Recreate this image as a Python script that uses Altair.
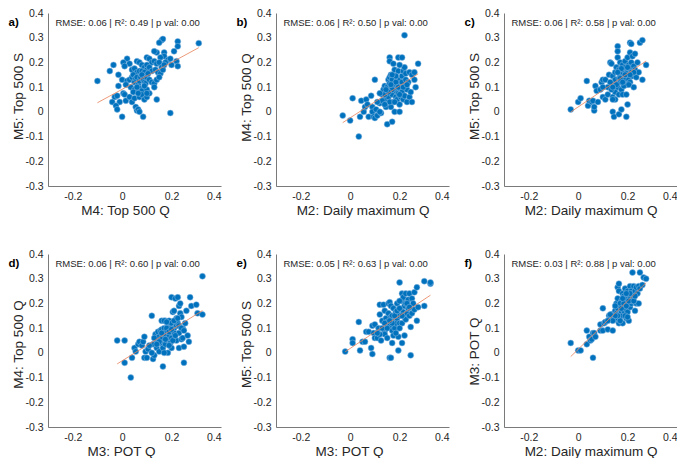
import altair as alt
import pandas as pd

FONT = "Liberation Sans"
TXT = "#262626"

# ---------------- data ----------------
a_pts = [(-0.10,0.125),(-0.05,0.165),(-0.035,0.19),(-0.015,0.15),
 (0.16,0.29),(0.165,0.295),(0.15,0.28),(0.225,0.285),(0.225,0.265),(0.31,0.278),(0.14,0.24),(0.13,0.245),
 (0.17,0.24),(0.21,0.245),(0.17,0.225),(0.185,0.21),(0.195,0.215),(0.2,0.19),(0.22,0.205),(0.225,0.185),
 (0.155,0.22),(0.1,0.22),(0.11,0.215),(0.12,0.2),(0.13,0.205),(0.14,0.195),(0.15,0.2),(0.16,0.18),(0.175,0.2),
 (0.06,0.205),(0.07,0.2),(0.08,0.19),(0.09,0.18),(0.1,0.17),(0.02,0.215),(0.03,0.195),(0.005,0.2),(0.01,0.185),
 (0.04,0.17),(0.05,0.175),(0.06,0.16),(0.07,0.165),(0.08,0.165),(0.09,0.16),(0.1,0.19),(0.11,0.18),(0.12,0.165),
 (0.135,0.17),(0.145,0.16),(0.155,0.155),(0.165,0.17),(0.17,0.19),
 (0.0,0.13),(0.02,0.125),(0.03,0.13),(0.04,0.14),(0.045,0.15),(0.05,0.12),(0.055,0.135),(0.06,0.14),(0.065,0.11),
 (0.07,0.125),(0.075,0.14),(0.08,0.15),(0.085,0.13),(0.09,0.12),(0.095,0.115),(0.1,0.14),(0.105,0.155),(0.11,0.13),
 (0.12,0.12),(0.13,0.115),(0.14,0.13),(0.15,0.14),(0.035,0.1),(0.05,0.09),(0.07,0.095),(0.08,0.085),(0.1,0.09),
 (0.13,0.1),(0.09,0.105),(0.06,0.1),(-0.015,0.105),(0.015,0.11),
 (-0.03,0.06),(-0.02,0.065),(-0.01,0.04),(-0.04,0.04),(-0.025,0.025),(-0.02,0.01),(0.0,-0.02),(0.015,0.045),
 (0.005,0.075),(0.01,0.07),(0.03,0.06),(0.04,0.04),(0.05,0.055),(0.055,0.02),(0.06,0.005),(0.065,0.01),(0.07,0.0),
 (0.085,-0.02),(0.07,0.06),(0.08,0.07),(0.09,0.05),(0.1,0.06),(0.11,0.075),(0.14,0.05),(0.195,-0.005),(0.045,0.08),
 (0.065,0.075),(0.1,0.075)]

b_pts = [(-0.03,-0.015),(0.0,-0.035),(0.01,0.055),(0.035,-0.1),(0.04,-0.02),(0.045,0.045),(0.055,0.0),(0.06,0.02),
 (0.065,0.05),(0.07,0.03),(0.075,-0.02),(0.085,0.065),(0.09,0.02),(0.09,0.0),(0.095,-0.02),(0.1,0.13),(0.1,-0.025),
 (0.105,0.01),(0.11,-0.015),(0.12,0.035),(0.125,-0.005),(0.13,0.07),(0.135,0.09),(0.14,0.105),(0.14,0.05),(0.145,0.02),
 (0.15,0.1),(0.15,0.08),(0.15,-0.05),(0.155,0.13),(0.155,0.06),(0.16,0.22),(0.16,0.205),(0.16,0.14),(0.16,0.115),
 (0.165,0.15),(0.165,0.09),(0.165,0.02),(0.17,-0.04),(0.17,0.13),(0.17,0.07),(0.175,0.11),(0.175,0.04),(0.18,0.17),
 (0.18,0.1),(0.18,0.0),(0.185,0.085),(0.185,0.06),(0.19,0.13),(0.19,0.095),(0.19,0.05),(0.195,0.165),(0.195,0.22),
 (0.195,0.075),(0.2,0.11),(0.2,0.13),(0.2,0.03),(0.2,0.0),(0.205,0.09),(0.205,0.06),(0.21,0.22),(0.21,0.145),
 (0.21,0.12),(0.21,0.08),(0.215,0.165),(0.215,0.05),(0.22,0.31),(0.22,0.18),(0.22,0.1),(0.22,0.065),(0.225,0.13),
 (0.225,0.155),(0.23,0.09),(0.23,0.04),(0.235,0.12),(0.24,0.16),(0.24,0.06),(0.245,0.08),(0.25,0.15),(0.25,0.04),
 (0.26,0.16),(0.265,0.1),(0.275,0.195),(0.26,0.13),(0.2,0.19),(0.175,0.195),(0.14,0.07),(0.13,0.045),(0.12,0.075),
 (0.11,0.04),(0.185,0.12),(0.195,0.1),(0.17,0.09),(0.165,0.11),(0.155,0.08),(0.145,0.09),(0.16,0.04),(0.18,0.04),
 (0.2,0.07),(0.215,0.1),(0.23,0.11),(0.185,0.145),(0.17,0.15),(0.14,0.03),(0.12,0.0)]

c_pts = [(-0.03,0.01),(0.0,0.04),(0.01,0.055),(0.035,0.125),(0.04,0.025),(0.045,0.045),(0.055,0.04),(0.06,0.045),
 (0.065,0.005),(0.065,0.02),(0.07,0.105),(0.075,0.085),(0.09,0.09),(0.095,0.12),(0.1,0.13),(0.1,0.06),(0.11,0.13),
 (0.11,0.05),(0.12,0.07),(0.125,0.15),(0.13,0.2),(0.135,0.195),(0.14,0.145),(0.14,0.06),(0.14,0.0),(0.145,0.11),
 (0.145,-0.02),(0.15,0.16),(0.15,0.13),(0.15,0.08),(0.155,0.18),(0.16,0.265),(0.16,0.245),(0.16,0.22),(0.16,0.1),
 (0.165,0.135),(0.165,0.17),(0.165,0.07),(0.165,-0.01),(0.17,0.2),(0.17,0.15),(0.17,0.12),(0.175,0.09),(0.175,0.01),
 (0.18,0.19),(0.18,0.16),(0.18,0.07),(0.185,0.17),(0.185,0.14),(0.19,0.205),(0.19,0.18),(0.19,0.13),(0.195,0.11),
 (0.195,0.07),(0.195,-0.02),(0.2,0.22),(0.2,0.165),(0.2,0.15),(0.2,0.03),(0.205,0.19),(0.205,0.13),(0.21,0.28),
 (0.21,0.24),(0.21,0.175),(0.21,0.12),(0.215,0.275),(0.215,0.2),(0.215,0.16),(0.22,0.225),(0.22,0.145),(0.225,0.185),
 (0.225,0.1),(0.23,0.235),(0.23,0.17),(0.235,0.14),(0.24,0.2),(0.245,0.16),(0.25,0.28),(0.26,0.29),(0.26,0.13),
 (0.275,0.19),(0.12,0.1),(0.13,0.12),(0.135,0.09),(0.155,0.11),(0.175,0.175),(0.185,0.105),(0.195,0.155),(0.205,0.11),
 (0.225,0.16),(0.14,0.1),(0.16,0.16),(0.17,0.135),(0.18,0.12),(0.19,0.15),(0.2,0.18),(0.21,0.15),(0.15,0.05),
 (0.14,0.05),(0.08,0.04),(0.1,0.1)]

d_pts = [(-0.02,0.05),(0.01,0.05),(0.01,-0.04),(0.035,-0.1),(0.04,-0.02),(0.05,0.02),(0.055,0.005),(0.065,0.035),
 (0.07,0.045),(0.08,0.03),(0.085,0.045),(0.09,0.065),(0.09,-0.02),(0.095,0.005),(0.1,-0.02),(0.105,0.015),(0.12,0.15),
 (0.125,0.035),(0.125,-0.025),(0.13,-0.01),(0.135,0.075),(0.14,0.05),(0.14,0.02),(0.145,0.085),(0.15,0.065),
 (0.15,0.005),(0.155,0.09),(0.155,0.04),(0.16,0.13),(0.16,0.095),(0.16,0.06),(0.165,0.02),(0.165,-0.055),(0.17,0.1),
 (0.17,0.075),(0.175,0.13),(0.175,0.035),(0.18,0.09),(0.18,0.055),(0.185,0.11),(0.185,0.0),(0.19,0.13),(0.19,0.07),
 (0.195,0.1),(0.195,0.04),(0.2,0.225),(0.2,0.12),(0.2,0.06),(0.2,0.02),(0.205,0.165),(0.21,0.17),(0.21,0.1),
 (0.21,0.08),(0.215,0.22),(0.215,0.13),(0.22,0.14),(0.22,0.11),(0.22,0.05),(0.225,0.225),(0.225,0.12),(0.23,0.19),
 (0.23,0.08),(0.23,0.02),(0.235,0.2),(0.235,0.16),(0.24,0.145),(0.24,0.055),(0.245,0.1),(0.245,0.06),(0.25,-0.04),
 (0.25,0.025),(0.255,0.12),(0.26,0.17),(0.265,0.07),(0.27,0.045),(0.275,0.225),(0.28,0.19),(0.3,0.195),(0.305,0.16),
 (0.325,0.31),(0.325,0.155),(0.17,0.13),(0.18,0.1),(0.19,0.085),(0.2,0.095),(0.21,0.13),(0.16,0.08),(0.15,0.045),
 (0.14,0.035),(0.13,0.06),(0.175,0.055),(0.205,0.05),(0.23,0.11),(0.24,0.1),(0.25,0.09),(0.215,0.07),(0.19,0.03),
 (0.17,0.0),(0.11,0.03),(0.12,0.0),(0.18,0.125),(0.225,0.14)]

e_pts = [(-0.02,0.005),(0.01,0.055),(0.01,0.04),(0.035,0.125),(0.04,0.01),(0.05,0.045),(0.06,0.045),(0.065,0.085),
 (0.075,0.085),(0.085,0.02),(0.09,0.11),(0.09,-0.005),(0.095,0.08),(0.1,0.06),(0.1,0.115),(0.11,0.06),(0.115,0.1),
 (0.12,0.155),(0.12,0.195),(0.125,0.05),(0.13,0.13),(0.135,0.195),(0.14,0.17),(0.14,0.09),(0.14,0.075),(0.145,0.14),
 (0.15,0.125),(0.15,0.06),(0.155,0.2),(0.155,0.16),(0.16,0.11),(0.16,0.205),(0.16,-0.02),(0.165,0.145),(0.165,0.19),
 (0.165,-0.02),(0.17,0.15),(0.17,0.09),(0.175,0.18),(0.175,0.07),(0.18,0.13),(0.18,0.1),(0.185,0.165),(0.185,0.12),
 (0.19,0.2),(0.19,0.14),(0.195,0.01),(0.195,0.065),(0.2,0.285),(0.2,0.15),(0.2,0.12),(0.205,0.175),(0.21,0.24),
 (0.21,0.21),(0.21,0.12),(0.21,0.04),(0.215,0.165),(0.215,0.225),(0.22,0.19),(0.22,0.145),(0.22,0.07),(0.225,0.24),
 (0.225,0.2),(0.225,0.135),(0.23,0.16),(0.235,0.215),(0.235,0.18),(0.24,0.24),(0.24,0.15),(0.245,0.105),(0.245,-0.01),
 (0.25,0.22),(0.25,0.16),(0.255,0.2),(0.26,0.245),(0.26,0.175),(0.27,0.265),(0.27,0.13),(0.275,0.185),(0.3,0.29),
 (0.3,0.19),(0.325,0.28),(0.325,0.285),(0.13,0.1),(0.15,0.1),(0.17,0.12),(0.18,0.15),(0.19,0.17),(0.2,0.18),(0.2,0.1),
 (0.185,0.08),(0.21,0.15),(0.23,0.2),(0.24,0.185),(0.14,0.12),(0.16,0.13),(0.12,0.075),(0.11,0.08),(0.17,0.04),(0.2,0.21)]

f_pts = [(-0.03,0.04),(0.0,0.01),(0.01,0.01),(0.035,0.035),(0.035,0.09),(0.045,0.065),(0.05,0.05),(0.055,0.055),
 (0.06,-0.02),(0.06,0.08),(0.065,0.08),(0.07,0.065),(0.09,0.115),(0.09,0.09),(0.1,0.18),(0.1,0.09),(0.105,0.12),
 (0.11,0.125),(0.12,0.095),(0.125,0.15),(0.13,0.14),(0.135,0.155),(0.14,0.09),(0.14,0.15),(0.145,0.16),(0.15,0.17),
 (0.15,0.135),(0.155,0.2),(0.155,0.16),(0.16,0.265),(0.16,0.22),(0.16,0.18),(0.16,0.14),(0.165,0.28),(0.165,0.25),
 (0.165,0.12),(0.17,0.19),(0.17,0.155),(0.175,0.21),(0.175,0.165),(0.18,0.24),(0.18,0.195),(0.18,0.15),(0.18,0.12),
 (0.185,0.23),(0.185,0.17),(0.19,0.205),(0.19,0.18),(0.19,0.26),(0.195,0.22),(0.195,0.14),(0.2,0.25),(0.2,0.2),
 (0.2,0.165),(0.205,0.235),(0.205,0.13),(0.21,0.27),(0.21,0.22),(0.21,0.185),(0.215,0.25),(0.215,0.2),(0.22,0.325),
 (0.22,0.24),(0.22,0.21),(0.225,0.27),(0.225,0.225),(0.23,0.25),(0.23,0.17),(0.235,0.265),(0.235,0.2),(0.24,0.24),
 (0.245,0.27),(0.245,0.2),(0.25,0.325),(0.25,0.26),(0.26,0.275),(0.265,0.305),(0.275,0.3),(0.17,0.2),(0.175,0.18),
 (0.185,0.2),(0.195,0.19),(0.205,0.21),(0.19,0.15),(0.2,0.145),(0.17,0.13),(0.16,0.15),(0.15,0.15),(0.14,0.13),
 (0.13,0.155),(0.12,0.13),(0.15,0.19),(0.21,0.24),(0.225,0.21),(0.23,0.23),(0.18,0.22),(0.195,0.24)]

letters = ["a)", "b)", "c)", "d)", "e)", "f)"]
x_titles = ["M4: Top 500 Q", "M2: Daily maximum Q", "M2: Daily maximum Q",
            "M3: POT Q", "M3: POT Q", "M2: Daily maximum Q"]
y_titles = ["M5: Top 500 S", "M4: Top 500 Q", "M5: Top 500 S",
            "M4: Top 500 Q", "M5: Top 500 S", "M3: POT Q"]
stats = ["RMSE: 0.06 | R²: 0.49 | p val: 0.00",
         "RMSE: 0.06 | R²: 0.50 | p val: 0.00",
         "RMSE: 0.06 | R²: 0.58 | p val: 0.00",
         "RMSE: 0.06 | R²: 0.60 | p val: 0.00",
         "RMSE: 0.05 | R²: 0.63 | p val: 0.00",
         "RMSE: 0.03 | R²: 0.88 | p val: 0.00"]
all_pts = [a_pts, b_pts, c_pts, d_pts, e_pts, f_pts]
x_ticks = [-0.2, 0, 0.2, 0.4]
y_ticks = [-0.3, -0.2, -0.1, 0, 0.1, 0.2, 0.3, 0.4]

# title placement tweaks (pixels, relative to the plot area)
x_title_pos = [77, 86.5, 86.5, 73, 73, 86.5]
y_title_pos = [83, 84, 83, 90, 90, 97]

W = 173
H = 173
LBL = "datum.value == 0 ? '0' : '' + datum.value"


def panel(i):
    pts = all_pts[i]
    df = pd.DataFrame({"x": [p[0] for p in pts], "y": [p[1] for p in pts]})
    xsc = alt.Scale(domain=[-0.3, 0.4], nice=False, zero=False)
    ysc = alt.Scale(domain=[-0.3, 0.4], nice=False, zero=False)
    xax = alt.Axis(values=x_ticks, labelExpr=LBL, title=x_titles[i],
                   titleX=x_title_pos[i], titleY=24, titleBaseline="middle",
                   titleAlign="center")
    yax = alt.Axis(values=y_ticks, labelExpr=LBL, title=y_titles[i],
                   titleX=-29.5, titleY=y_title_pos[i], titleBaseline="middle",
                   titleAlign="center")
    enc = dict(x=alt.X("x:Q", scale=xsc, axis=xax), y=alt.Y("y:Q", scale=ysc, axis=yax))
    pts_layer = alt.Chart(df).mark_circle(
        size=36, color="#0072BD", opacity=1, stroke="#8fbbe3", strokeWidth=0.5
    ).encode(**enc)
    line = alt.Chart(df).transform_regression("x", "y").mark_line(
        color="#E8825A", strokeWidth=0.9, opacity=0.9
    ).encode(**enc)
    txt = alt.Chart(pd.DataFrame({"t": [stats[i]]})).mark_text(
        align="left", baseline="middle", fontSize=9.5, font=FONT, color=TXT
    ).encode(x=alt.value(7.5), y=alt.value(9.5), text="t:N")
    let = alt.Chart(pd.DataFrame({"t": [letters[i]]})).mark_text(
        align="left", baseline="middle", fontSize=11.5, font=FONT, fontWeight="bold", color="#000000"
    ).encode(x=alt.value(-39.5), y=alt.value(10), text="t:N")
    return alt.layer(pts_layer, line, txt, let).properties(width=W, height=H)


chart = alt.concat(*[panel(i) for i in range(6)], columns=3,
                   spacing={"row": 68, "column": 55}, bounds="flush").properties(
    padding={"left": 0, "top": 0, "right": 0, "bottom": 0},
    background="#ffffff",
).configure_view(stroke=None).configure_axis(
    grid=False, ticks=False, tickSize=0, domainColor="#404040", domainWidth=0.7,
    labelFont=FONT, labelFontSize=10.5, labelColor=TXT,
    titleFont=FONT, titleFontSize=13.5, titleFontWeight="normal", titleColor=TXT,
).configure_axisX(labelPadding=5).configure_axisY(labelPadding=5)

chart.save("out.html", embed_options={"renderer": "svg", "actions": False})
